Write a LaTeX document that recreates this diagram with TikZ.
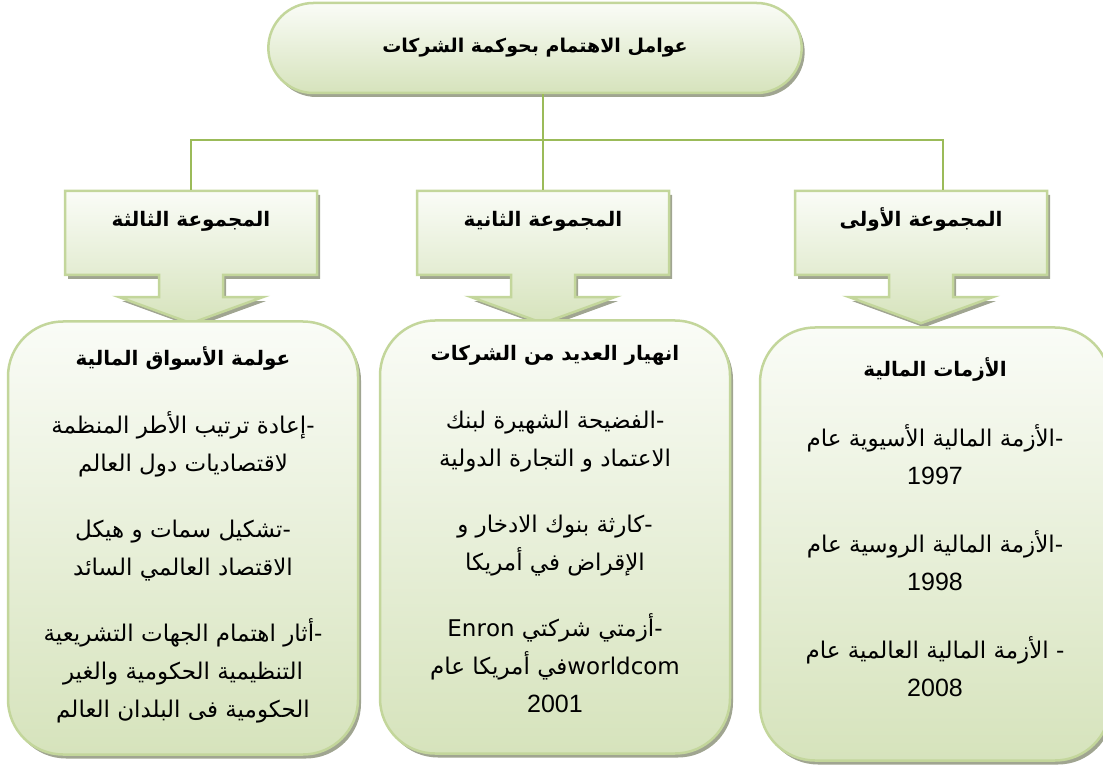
\documentclass[tikz,border=0pt]{standalone}
\usepackage{fontspec}
\setmainfont{Liberation Sans}
\newfontfamily\arabicfont[Script=Arabic]{DejaVu Sans}
\TeXXeTstate=1
\usetikzlibrary{positioning,shapes.misc,shapes.arrows,shadows}

\definecolor{linegreen}{RGB}{155,187,89}
\definecolor{edgegreen}{RGB}{195,214,155}
\definecolor{filltop}{RGB}{250,252,247}
\definecolor{fillbot}{RGB}{214,227,188}
\definecolor{shadowgray}{RGB}{160,165,145}

\newcommand{\ar}[1]{{\arabicfont\beginR #1\endR}}
\newcommand{\hd}[1]{{\bfseries\fontsize{20}{24}\selectfont\ar{#1}}}
\newcommand{\yr}[1]{{\fontsize{25}{38}\selectfont #1}}

\tikzset{
  greenfill/.style = {draw=edgegreen, line width=2.5pt,
                      top color=filltop, bottom color=fillbot,
                      drop shadow={shadow xshift=3pt, shadow yshift=-4pt,
                                   fill=shadowgray, opacity=1}},
  titlebox/.style  = {greenfill, rounded rectangle, minimum width=540pt,
                      minimum height=90pt,
                      font=\bfseries\fontsize{19}{24}\selectfont},
  groupbox/.style  = {greenfill, arrow box, minimum width=252pt,
                      minimum height=84pt, arrow box arrows={south:47pt},
                      arrow box shaft width=64pt, arrow box head extend=40pt,
                      arrow box tip angle=140, text height=12pt, text depth=24pt,
                      font=\bfseries\fontsize{20}{24}\selectfont},
  itembox/.style   = {greenfill, rounded corners=55pt, minimum width=350pt,
                      minimum height=433pt},
  itemtext/.style  = {inner sep=0pt, align=center,
                      font=\fontsize{23}{38}\selectfont},
  branch/.style    = {draw=linegreen, line width=2.5pt}
}

\begin{document}
\begin{tikzpicture}[x=1pt, y=-1pt]
  \useasboundingbox (0,0) rectangle (1103,767);

  % heading
  \node[titlebox] (top) at (535,48) {\ar{عوامل الاهتمام بحوكمة الشركات}};

  % the three groups
  \node[groupbox] (g3) at (191,233) {\ar{المجموعة الثالثة}};
  \node[groupbox] (g2) at (543,233) {\ar{المجموعة الثانية}};
  \node[groupbox] (g1) at (921,233) {\ar{المجموعة الأولى}};

  % tree lines
  \coordinate (bar) at (543,140);
  \draw[branch] (top.south -| g2.north) -- (g2.north);
  \draw[branch] (g3.north) |- (bar) -| ([xshift=22pt]g1.north);

  % detail boxes
  \node[itembox] (c3) at (183,538) {};
  \node[itembox] (c2) at (555,537) {};
  \node[itembox] (c1) at (935,544) {};

  \node[itemtext, below=26pt of c3.north] (t3) {%
    \hd{عولمة الأسواق المالية}\\[30pt]
    \ar{-إعادة ترتيب الأطر المنظمة}\\
    \ar{لاقتصاديات دول العالم}\\[28pt]
    \ar{-تشكيل سمات و هيكل}\\
    \ar{الاقتصاد العالمي السائد}\\[28pt]
    \ar{-أثار اهتمام الجهات التشريعية}\\
    \ar{التنظيمية الحكومية والغير}\\
    \ar{الحكومية فى البلدان العالم}};

  \node[itemtext, below=26pt of c2.north] (t2) {%
    \hd{انهيار العديد من الشركات}\\[30pt]
    \ar{-الفضيحة الشهيرة لبنك}\\
    \ar{الاعتماد و التجارة الدولية}\\[28pt]
    \ar{-كارثة بنوك الادخار و}\\
    \ar{الإقراض في أمريكا}\\[28pt]
    \ar{-أزمتي شركتي \beginL Enron\endL{}}\\
    \ar{\beginL worldcom\endL{}في أمريكا عام}\\
    \yr{2001}};

  \node[itemtext, below=31pt of c1.north] (t1) {%
    \hd{الأزمات المالية}\\[32pt]
    \ar{-الأزمة المالية الأسيوية عام}\\
    \yr{1997}\\[30pt]
    \ar{-الأزمة المالية الروسية عام}\\
    \yr{1998}\\[30pt]
    \ar{- الأزمة المالية العالمية عام}\\
    \yr{2008}};
\end{tikzpicture}
\end{document}
